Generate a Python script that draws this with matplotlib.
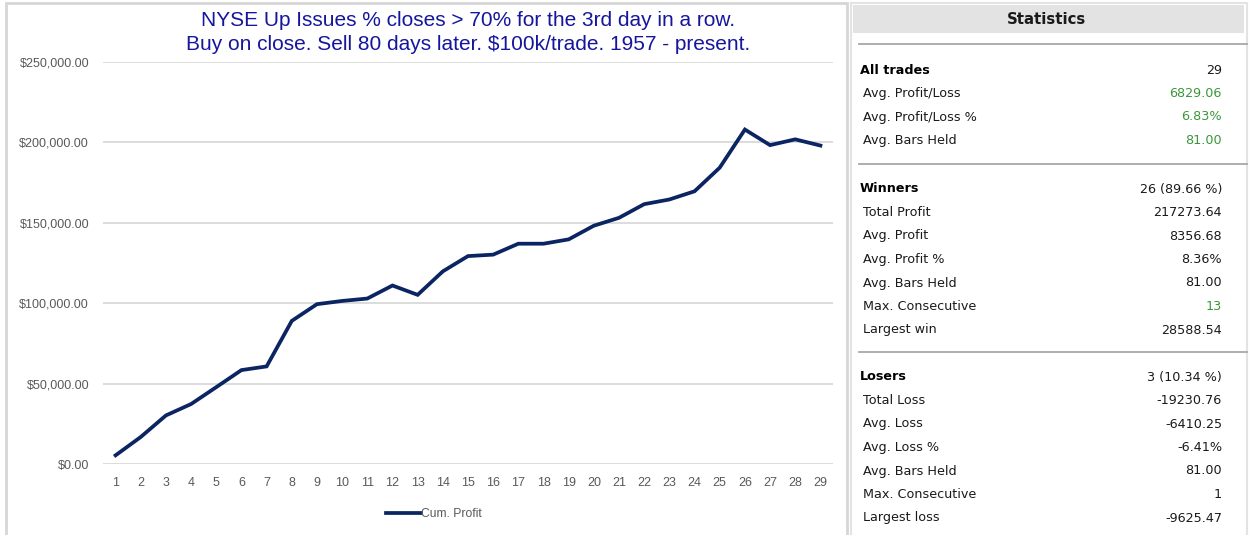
import matplotlib
matplotlib.use("Agg")
import matplotlib.pyplot as plt
from matplotlib.patches import Rectangle
from matplotlib.lines import Line2D
from matplotlib.ticker import FuncFormatter

# ---- data ----
trades = list(range(1, 30))
cum_profit = [5400, 16800, 30200, 37300, 47800, 58400, 60700, 89000, 99400, 101400,
              102900, 111000, 105200, 119800, 129300, 130200, 137000, 137000, 139700,
              148200, 153100, 161600, 164500, 169600, 184300, 208000, 198300, 201900,
              198043]
series_name = "Cum. Profit"
title_lines = ["NYSE Up Issues % closes > 70% for the 3rd day in a row.",
               "Buy on close. Sell 80 days later. $100k/trade. 1957 - present."]

sections = ["All trades", "Winners", "Losers"]
section_values = ["29", "26 (89.66 %)", "3 (10.34 %)"]
all_labels = ["Avg. Profit/Loss", "Avg. Profit/Loss %", "Avg. Bars Held"]
all_values = ["6829.06", "6.83%", "81.00"]
win_labels = ["Total Profit", "Avg. Profit", "Avg. Profit %", "Avg. Bars Held",
              "Max. Consecutive", "Largest win"]
win_values = ["217273.64", "8356.68", "8.36%", "81.00", "13", "28588.54"]
lose_labels = ["Total Loss", "Avg. Loss", "Avg. Loss %", "Avg. Bars Held",
               "Max. Consecutive", "Largest loss"]
lose_values = ["-19230.76", "-6410.25", "-6.41%", "81.00", "1", "-9625.47"]

W, H = 1249, 535
fig = plt.figure(figsize=(W / 100, H / 100), dpi=100)

def fx(x):
    return x / W

def fy(y):
    return 1 - y / H

LINE_COLOR = "#0B2562"
GRID = "#D9D9D9"
TXT_GRAY = "#595959"
GREEN = "#3A963A"
DARK = "#1A1A1A"
TITLE_COLOR = "#15159E"

# ---- panel borders ----
fig.patches.append(Rectangle((fx(6), fy(540)), fx(847) - fx(6), fy(3) - fy(540),
                             transform=fig.transFigure, fill=False,
                             edgecolor="#D6D6D6", linewidth=2))
fig.patches.append(Rectangle((fx(851), fy(540)), fx(1247) - fx(851), fy(3) - fy(540),
                             transform=fig.transFigure, fill=False,
                             edgecolor="#E3E3E3", linewidth=1.5))

# ---- chart ----
ax = fig.add_axes([fx(103), fy(464), fx(833) - fx(103), fy(62) - fy(464)])
ax.plot(trades, cum_profit, color=LINE_COLOR, linewidth=2.7,
        solid_joinstyle="miter", label=series_name)
ax.set_xlim(0.5, 29.5)
ax.set_ylim(0, 250000)
ax.set_yticks(range(0, 250001, 50000))
ax.set_xticks(trades)
ax.yaxis.set_major_formatter(FuncFormatter(lambda v, p: "${:,.2f}".format(v)))
ax.grid(axis="y", color=GRID, linewidth=1.3)
ax.set_axisbelow(True)
for s in ax.spines.values():
    s.set_visible(False)
ax.tick_params(length=0, colors=TXT_GRAY, labelsize=9)
ax.tick_params(axis="y", pad=10)
ax.tick_params(axis="x", pad=9)
for lab in ax.get_xticklabels() + ax.get_yticklabels():
    lab.set_fontfamily("Liberation Sans")
ax.legend(loc="center", bbox_to_anchor=(fx(434), fy(514)),
          bbox_transform=fig.transFigure, frameon=False, handlelength=2.9,
          handletextpad=0.0, prop={"family": "Liberation Sans", "size": 8.7},
          labelcolor=TXT_GRAY)

fig.text(fx(468), fy(20), title_lines[0], ha="center", va="center",
         color=TITLE_COLOR, fontsize=15, family="Liberation Sans")
fig.text(fx(468), fy(44), title_lines[1], ha="center", va="center",
         color=TITLE_COLOR, fontsize=15, family="Liberation Sans")

# ---- statistics panel ----
fig.patches.append(Rectangle((fx(853), fy(33)), fx(1244) - fx(853), fy(5) - fy(33),
                             transform=fig.transFigure, facecolor="#E3E3E3",
                             edgecolor="none"))
fig.text(fx(1046), fy(20), "Statistics", ha="center", va="center", fontsize=10.7,
         fontweight="bold", color=DARK, family="DejaVu Sans")

for ysep in [44, 164, 352]:
    fig.lines.append(Line2D([fx(859), fx(1247)], [fy(ysep), fy(ysep)],
                            transform=fig.transFigure, color="#A8A8A8", linewidth=1.3))

LX_HEAD, LX_ITEM, VX = 860, 863, 1222
FS = 9.2

def block(y0, head, head_val, labels, values, colors):
    fig.text(fx(LX_HEAD), fy(y0), head, ha="left", va="center", fontsize=FS,
             fontweight="bold", color="black", family="DejaVu Sans")
    fig.text(fx(VX), fy(y0), head_val, ha="right", va="center", fontsize=FS,
             color=DARK, family="DejaVu Sans")
    for i, (lab, val) in enumerate(zip(labels, values)):
        y = y0 + 23.5 * (i + 1)
        fig.text(fx(LX_ITEM), fy(y), lab, ha="left", va="center", fontsize=FS,
                 color=DARK, family="DejaVu Sans")
        fig.text(fx(VX), fy(y), val, ha="right", va="center", fontsize=FS,
                 color=colors[i], family="DejaVu Sans")

block(70, sections[0], section_values[0], all_labels, all_values, [GREEN] * 3)
block(189, sections[1], section_values[1], win_labels, win_values,
      [DARK, DARK, DARK, DARK, GREEN, DARK])
block(377, sections[2], section_values[2], lose_labels, lose_values, [DARK] * 6)

fig.savefig("out.png", dpi=100)
